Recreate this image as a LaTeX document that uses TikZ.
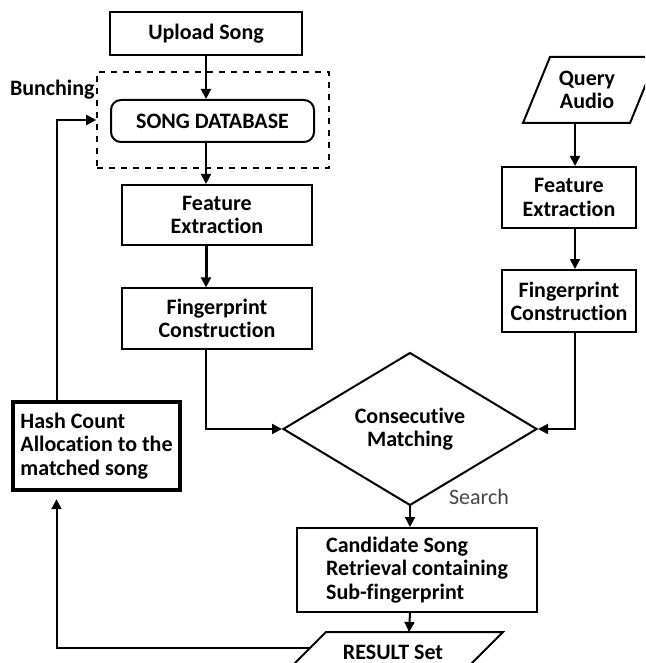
\documentclass[tikz,border=0pt]{standalone}
\usepackage{fontspec}
\setmainfont{Carlito}[Ligatures=NoCommon]
\usepackage{tikz}
\usetikzlibrary{positioning, arrows.meta, calc, shapes.geometric}
\definecolor{labelgrey}{RGB}{70,70,70}

\begin{document}
\begin{tikzpicture}[x=0.5pt, y=-0.5pt,
    every node/.style={font=\fontsize{11}{11.6}\selectfont\bfseries},
    flow box/.style={rectangle, draw, line width=1pt, align=center, inner sep=2pt},
    io text/.style={align=center, inner sep=0pt},
    io edge/.style={line width=1pt, line join=miter},
    arr/.style={-{Triangle[length=5pt,width=5pt]}, line width=1pt},
  ]

  % page frame (cuts the right and bottom shapes like the original)
  \clip (0,0) rectangle (645,663);

  % ============ SONG COLUMN (left) ============
  \node[flow box, line width=1.3pt, minimum width=96pt, minimum height=21.5pt]
    (upload) at (206,33.5) {Upload Song};

  \node[draw, dashed, line width=0.8pt, minimum width=116pt, minimum height=48pt,
        inner sep=0pt] (bunch) at (213,120) {};
  \node[flow box, rounded corners=5pt, minimum width=101.5pt, minimum height=21pt]
    (songdb) at (212.5,121) {SONG DATABASE};
  \node[anchor=east, inner sep=0pt] (bunchlbl) at (95,90) {Bunching};

  \node[flow box, minimum width=95pt, minimum height=30pt]
    (featL) at (217,215) {Feature\\Extraction};
  \node[flow box, line width=0.6pt, minimum width=95pt, minimum height=30.5pt]
    (fingL) at (217,318.5) {Fingerprint\\Construction};

  % ============ QUERY COLUMN (right) ============
  % input parallelogram, partly outside the page on the right
  \draw[io edge] (523,123) -- (550,57) -- (657,57) -- (630,123) -- cycle;
  \node[io text] (query) at (587,90) {Query\\Audio};
  \coordinate (querybase) at (575,123);

  \node[flow box, minimum width=67pt, minimum height=30.5pt]
    (featR) at (569,197.5) {Feature\\Extraction};
  \node[flow box, minimum width=67pt, minimum height=31pt]
    (fingR) at (569,301) {Fingerprint\\Construction};

  % ============ MATCHING + RESULT ============
  \node[diamond, draw, line width=1pt, minimum width=127pt, minimum height=64pt,
        inner sep=0pt, align=center] (match) at (410,429) {Consecutive\\Matching};
  \node[anchor=west, font=\fontsize{11}{11.6}\selectfont, text=labelgrey]
    (searchlbl) at (442,497) {Search};

  \node[flow box, align=left, minimum width=120pt, minimum height=42pt]
    (cand) at (417,570) {Candidate Song\\Retrieval containing\\Sub-fingerprint};

  % output parallelogram, cut by the bottom of the page
  \draw[io edge] (286,672) -- (326,632) -- (503,632) -- (463,672) -- cycle;
  \node[io text] (result) at (393,652) {RESULT Set};
  \coordinate (resulttop) at (409,632);
  \coordinate (resultside) at (310,648);

  \node[flow box, line width=2.2pt, align=left, minimum width=83.5pt, minimum height=44pt]
    (hash) at (96.5,446) {Hash Count\\Allocation to the\\matched song};

  % ============ CONNECTORS ============
  \draw[arr] (upload.south) -- (upload.south |- songdb.north);
  \draw[arr] (songdb.south -| upload.south) -- (featL.north -| upload.south);
  \draw[arr, line width=1.5pt] (featL.south -| upload.south) -- (fingL.north -| upload.south);
  \draw[arr] (fingL.south -| upload.south) |- (match.west);

  \draw[arr] (querybase) -- (querybase |- featR.north);
  \draw[arr] (querybase |- featR.south) -- (querybase |- fingR.north);
  \draw[arr] (querybase |- fingR.south) |- (match.east);

  \draw[arr] (match.south) -- (match.south |- cand.north);
  \draw[arr] (match.south |- cand.south) -- (resulttop);

  % feedback loop
  \draw[arr] (resultside) -| ([xshift=-20pt, yshift=-3.5pt]hash.south);
  \draw[arr] ([xshift=-20pt]hash.north) |- (bunch.west);

\end{tikzpicture}
\end{document}
